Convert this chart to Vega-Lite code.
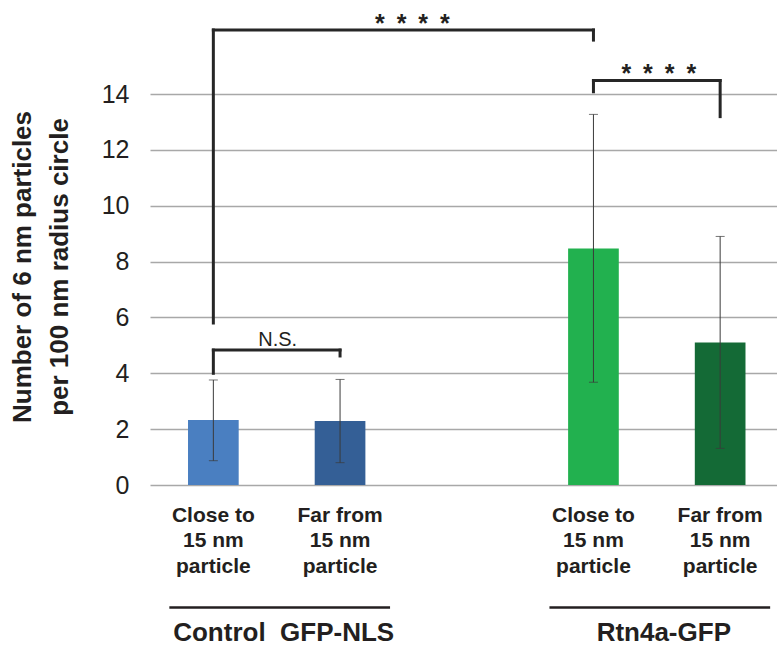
{
  "$schema": "https://vega.github.io/schema/vega-lite/v6.json",
  "width": 627,
  "height": 391,
  "autosize": {"type": "none"},
  "padding": {"left": 150, "top": 94, "right": 0, "bottom": 161},
  "background": "white",
  "config": {"view": {"stroke": null}, "font": "Liberation Sans"},
  "datasets": {
    "bars": [
      {"condition": "Control close", "group": "Control GFP-NLS", "mean": 2.33, "lo": 0.87, "hi": 3.76},
      {"condition": "Control far", "group": "Control GFP-NLS", "mean": 2.29, "lo": 0.80, "hi": 3.78},
      {"condition": "Rtn4a close", "group": "Rtn4a-GFP", "mean": 8.47, "lo": 3.68, "hi": 13.27},
      {"condition": "Rtn4a far", "group": "Rtn4a-GFP", "mean": 5.10, "lo": 1.31, "hi": 8.90}
    ],
    "brackets": [
      {"from": "Control close", "to": "Rtn4a close", "y1": 16.29, "y2": 16.29},
      {"from": "Control close", "to": "Control close", "y1": 16.29, "y2": 5.8},
      {"from": "Rtn4a close", "to": "Rtn4a close", "y1": 16.29, "y2": 15.93},
      {"from": "Control close", "to": "Control far", "y1": 4.83, "y2": 4.83},
      {"from": "Control close", "to": "Control close", "y1": 4.83, "y2": 4.0},
      {"from": "Control far", "to": "Control far", "y1": 4.83, "y2": 4.62},
      {"from": "Rtn4a close", "to": "Rtn4a far", "y1": 14.48, "y2": 14.48},
      {"from": "Rtn4a close", "to": "Rtn4a close", "y1": 14.48, "y2": 14.08},
      {"from": "Rtn4a far", "to": "Rtn4a far", "y1": 14.48, "y2": 13.19}
    ],
    "groups": [
      {"first": "Control close", "last": "Control far", "label": "Control\u00a0\u00a0GFP-NLS", "level": -4.39, "textLevel": -5.3},
      {"first": "Rtn4a close", "last": "Rtn4a far", "label": "Rtn4a-GFP", "level": -4.39, "textLevel": -5.3}
    ]
  },
  "layer": [
    {
      "data": {"name": "bars"},
      "mark": {"type": "bar", "width": {"band": 0.4}},
      "encoding": {
        "x": {
          "field": "condition", "type": "nominal",
          "scale": {"type": "band", "domain": ["Control close", "Control far", "gap", "Rtn4a close", "Rtn4a far"], "range": [0, 633.5], "paddingInner": 0, "paddingOuter": 0},
          "axis": {
            "title": null,
            "labelExpr": "datum.value == 'gap' ? '' : (indexof(datum.value, 'close') >= 0 ? ['Close to', '15 nm', 'particle'] : ['Far from', '15 nm', 'particle'])",
            "ticks": false, "domain": false, "grid": false,
            "labelFontSize": 21, "labelFontWeight": "bold", "labelLineHeight": 25.5,
            "labelPadding": 19, "labelBaseline": "top", "labelAngle": 0, "labelOverlap": false,
            "labelColor": "#231f20", "labelLimit": 300
          }
        },
        "y": {
          "field": "mean", "type": "quantitative",
          "scale": {"domain": [0, 14], "nice": false},
          "axis": {
            "values": [0, 2, 4, 6, 8, 10, 12, 14],
            "title": ["Number of 6 nm particles", "per 100 nm radius circle"],
            "titleFontSize": 26, "titleFontWeight": "bold", "titleLineHeight": 37,
            "titleX": -128, "titleY": 172.5, "titleAlign": "center", "titleBaseline": "middle", "titleAngle": -90,
            "titleColor": "#231f20",
            "labelFontSize": 25, "labelPadding": 21, "labelColor": "#231f20",
            "ticks": false, "domain": false,
            "gridColor": "#a8a8a8", "gridWidth": 1.3
          }
        },
        "color": {
          "field": "condition", "type": "nominal",
          "scale": {"domain": ["Control close", "Control far", "Rtn4a close", "Rtn4a far"], "range": ["#4a7fc1", "#345f96", "#22b14f", "#146a36"]},
          "legend": null
        }
      }
    },
    {
      "data": {"name": "bars"},
      "mark": {"type": "rule", "color": "#3a3a3a", "strokeWidth": 1},
      "encoding": {
        "x": {"field": "condition", "type": "nominal"},
        "y": {"field": "lo", "type": "quantitative"},
        "y2": {"field": "hi"}
      }
    },
    {
      "data": {"name": "bars"},
      "mark": {"type": "tick", "orient": "horizontal", "size": 9, "thickness": 1, "color": "#3a3a3a"},
      "encoding": {
        "x": {"field": "condition", "type": "nominal"},
        "y": {"field": "lo", "type": "quantitative"}
      }
    },
    {
      "data": {"name": "bars"},
      "mark": {"type": "tick", "orient": "horizontal", "size": 9, "thickness": 1, "color": "#3a3a3a"},
      "encoding": {
        "x": {"field": "condition", "type": "nominal"},
        "y": {"field": "hi", "type": "quantitative"}
      }
    },
    {
      "data": {"name": "brackets"},
      "mark": {"type": "rule", "color": "#262626", "strokeWidth": 3, "strokeCap": "square"},
      "encoding": {
        "x": {"field": "from", "type": "nominal"},
        "x2": {"field": "to"},
        "y": {"field": "y1", "type": "quantitative"},
        "y2": {"field": "y2"}
      }
    },
    {
      "data": {"values": [{"anchor": "Control far", "label": "*\u00a0\u2009*\u00a0\u2009*\u00a0\u2009*", "level": 16.22}]},
      "mark": {"type": "text", "fontSize": 25, "fontWeight": "bold", "baseline": "alphabetic", "align": "center", "dx": 9, "color": "#231f20"},
      "encoding": {
        "x": {"field": "anchor", "type": "nominal", "bandPosition": 1},
        "y": {"field": "level", "type": "quantitative"},
        "text": {"field": "label"}
      }
    },
    {
      "data": {"values": [{"anchor": "Rtn4a close", "label": "*\u00a0\u2009*\u00a0\u2009*\u00a0\u2009*", "level": 14.42}]},
      "mark": {"type": "text", "fontSize": 25, "fontWeight": "bold", "baseline": "alphabetic", "align": "center", "dx": 2, "color": "#231f20"},
      "encoding": {
        "x": {"field": "anchor", "type": "nominal", "bandPosition": 1},
        "y": {"field": "level", "type": "quantitative"},
        "text": {"field": "label"}
      }
    },
    {
      "data": {"values": [{"anchor": "Control close", "label": "N.S.", "level": 4.98}]},
      "mark": {"type": "text", "fontSize": 20, "baseline": "alphabetic", "align": "center", "dx": 1, "color": "#231f20"},
      "encoding": {
        "x": {"field": "anchor", "type": "nominal", "bandPosition": 1},
        "y": {"field": "level", "type": "quantitative"},
        "text": {"field": "label"}
      }
    },
    {
      "data": {"name": "groups"},
      "mark": {"type": "rule", "color": "#231f20", "strokeWidth": 2.5, "xOffset": -44, "x2Offset": 50},
      "encoding": {
        "x": {"field": "first", "type": "nominal"},
        "x2": {"field": "last"},
        "y": {"field": "level", "type": "quantitative"}
      }
    },
    {
      "data": {"name": "groups"},
      "mark": {"type": "text", "fontSize": 26, "fontWeight": "bold", "baseline": "middle", "align": "center", "dx": 7, "color": "#231f20"},
      "encoding": {
        "x": {"field": "first", "type": "nominal", "bandPosition": 1},
        "y": {"field": "textLevel", "type": "quantitative"},
        "text": {"field": "label"}
      }
    }
  ]
}
